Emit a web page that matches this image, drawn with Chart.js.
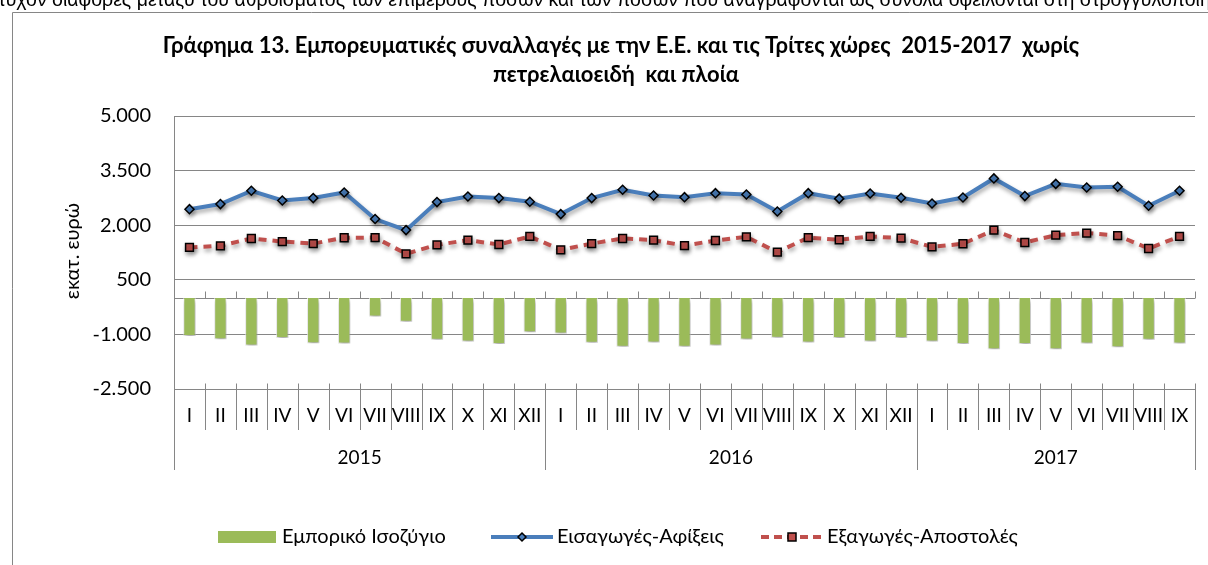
<!DOCTYPE html>
<html>
<head>
<meta charset="utf-8">
<script src="https://cdn.jsdelivr.net/npm/chart.js@4.4.1/dist/chart.umd.min.js"></script>
<style>
  html, body { margin: 0; padding: 0; background: #fff; }
  #wrap { position: relative; width: 1208px; height: 565px; overflow: hidden; }
</style>
</head>
<body>
<div id="wrap"><canvas id="chart" width="1208" height="565"></canvas></div>
<script>
// μήνες / έτη
const months = [
  "I", "II", "III", "IV", "V", "VI", "VII", "VIII", "IX", "X", "XI", "XII",
  "I", "II", "III", "IV", "V", "VI", "VII", "VIII", "IX", "X", "XI", "XII",
  "I", "II", "III", "IV", "V", "VI", "VII", "VIII", "IX",
];
const years = ["2015", "2016", "2017"];
const yearSpans = [12, 12, 9];

// Εμπορικό Ισοζύγιο (εκατ. ευρώ)
const balance = [
  -1045, -1130, -1305, -1100, -1240, -1250, -510, -655, -1150, -1195, -1265, -940,
  -975, -1230, -1340, -1220, -1340, -1305, -1140, -1095, -1220, -1100, -1195, -1100,
  -1195, -1265, -1405, -1265, -1405, -1250, -1350, -1150, -1250,
];
// Εισαγωγές-Αφίξεις
const imports = [
  2440, 2580, 2945, 2680, 2745, 2900, 2170, 1865, 2635, 2790, 2745, 2645,
  2305, 2745, 2975, 2815, 2770, 2880, 2845, 2375, 2880, 2730, 2870, 2755,
  2595, 2760, 3285, 2800, 3135, 3035, 3055, 2535, 2945,
];
// Εξαγωγές-Αποστολές
const exports = [
  1390, 1435, 1635, 1550, 1495, 1655, 1660, 1215, 1460, 1590, 1470, 1690,
  1325, 1495, 1635, 1590, 1440, 1580, 1680, 1260, 1660, 1600, 1690, 1645,
  1405, 1490, 1865, 1525, 1725, 1785, 1715, 1360, 1690,
];

const yTicks = [-2500, -1000, 500, 2000, 3500, 5000];

const titleLines = [
  "Γράφημα 13. Εμπορευματικές συναλλαγές με την Ε.Ε. και τις Τρίτες χώρες  2015-2017  χωρίς",
  "πετρελαιοειδή  και πλοία",
];
const topNote = "τυχόν διαφορές μεταξύ του αθροίσματος των επιμέρους ποσών και των ποσών που αναγράφονται ως σύνολα οφείλονται στη στρογγυλοποίηση";
const yTitle = "εκατ. ευρώ";

const GRID = "#868686";
const FONT = "Lato, 'Open Sans', sans-serif";
const GREEN = "#9BBB59";
const BLUE = "#4A7EBB";
const RED = "#C0504D";

function fmtThousands(v) {
  const s = String(Math.abs(v)).replace(/\B(?=(\d{3})+(?!\d))/g, ".");
  return v < 0 ? "-" + s : s;
}

// σκιά όπως στο Excel
const shadowPlugin = {
  id: "shadow",
  beforeDatasetDraw(chart) {
    const ctx = chart.ctx;
    ctx.save();
    ctx.shadowColor = "rgba(0,0,0,0.35)";
    ctx.shadowBlur = 4;
    ctx.shadowOffsetX = 1;
    ctx.shadowOffsetY = 3;
  },
  afterDatasetDraw(chart) {
    chart.ctx.restore();
  },
};

const decorPlugin = {
  id: "decor",
  beforeDatasetsDraw(chart) {
    const ctx = chart.ctx;
    const x = chart.scales.x;
    const y = chart.scales.y;
    const y0 = Math.round(y.getPixelForValue(0)) + 0.5;
    const step = (x.right - x.left) / months.length;
    ctx.save();
    ctx.strokeStyle = GRID;
    ctx.lineWidth = 1;
    ctx.beginPath();
    ctx.moveTo(x.left, y0);
    ctx.lineTo(x.right, y0);
    for (let i = 0; i <= months.length; i++) {
      const px = Math.round(x.left + i * step) + 0.5;
      ctx.moveTo(px, y0 - 7);
      ctx.lineTo(px, y0);
    }
    ctx.stroke();
    ctx.restore();
  },
  afterDraw(chart) {
    const ctx = chart.ctx;
    const x = chart.scales.x;
    const area = chart.chartArea;
    const step = (x.right - x.left) / months.length;
    const base = Math.round(area.bottom) + 0.5;

    ctx.save();
    // πλαίσιο
    ctx.strokeStyle = GRID;
    ctx.lineWidth = 1;
    ctx.beginPath();
    ctx.moveTo(12.5, 565);
    ctx.lineTo(12.5, 12.5);
    ctx.lineTo(1208, 12.5);
    ctx.stroke();

    // σημείωση επάνω (κομμένη)
    ctx.fillStyle = "#000";
    ctx.font = "19.5px 'Liberation Sans Narrow', 'Liberation Sans', sans-serif";
    ctx.textAlign = "left";
    ctx.textBaseline = "alphabetic";
    ctx.fillText(topNote, -2, 6);

    // τίτλος
    ctx.font = "bold 22px " + FONT;
    ctx.textAlign = "center";
    ctx.textBaseline = "middle";
    ctx.fillText(titleLines[0], 621, 46);
    ctx.fillText(titleLines[1], 616, 75);

    // τίτλος άξονα y
    ctx.save();
    ctx.translate(73, 251);
    ctx.rotate(-Math.PI / 2);
    ctx.font = "20px " + FONT;
    ctx.fillText(yTitle, 0, 0);
    ctx.restore();

    // κατηγορίες: μήνες
    ctx.strokeStyle = GRID;
    ctx.beginPath();
    let acc = 0;
    const bounds = [0];
    yearSpans.forEach((n) => { acc += n; bounds.push(acc); });
    for (let i = 0; i <= months.length; i++) {
      const px = Math.round(x.left + i * step) + 0.5;
      const isYear = bounds.includes(i);
      ctx.moveTo(px, base - 6);
      ctx.lineTo(px, isYear ? 470 : 430);
    }
    ctx.stroke();

    ctx.font = "19px " + FONT;
    ctx.fillStyle = "#000";
    months.forEach((m, i) => {
      ctx.fillText(m, x.getPixelForValue(i), 416);
    });
    years.forEach((yr, k) => {
      const a = x.left + bounds[k] * step;
      const b = x.left + bounds[k + 1] * step;
      ctx.fillText(yr, (a + b) / 2, 458);
    });

    // υπόμνημα
    const ly = 537;
    ctx.textAlign = "left";
    ctx.font = "20px " + FONT;
    ctx.fillStyle = GREEN;
    ctx.fillRect(218, ly - 6, 58, 12);
    ctx.fillStyle = "#000";
    ctx.fillText(chart.data.datasets[0].label, 282, ly);

    ctx.strokeStyle = BLUE;
    ctx.lineWidth = 4;
    ctx.beginPath();
    ctx.moveTo(491, ly);
    ctx.lineTo(553, ly);
    ctx.stroke();
    ctx.fillStyle = BLUE;
    ctx.strokeStyle = "#000";
    ctx.lineWidth = 1.5;
    ctx.beginPath();
    ctx.moveTo(522, ly - 4);
    ctx.lineTo(526, ly);
    ctx.lineTo(522, ly + 4);
    ctx.lineTo(518, ly);
    ctx.closePath();
    ctx.fill();
    ctx.stroke();
    ctx.fillStyle = "#000";
    ctx.fillText(chart.data.datasets[1].label, 557, ly);

    ctx.strokeStyle = RED;
    ctx.lineWidth = 4;
    ctx.setLineDash([8, 5]);
    ctx.beginPath();
    ctx.moveTo(761, ly);
    ctx.lineTo(823, ly);
    ctx.stroke();
    ctx.setLineDash([]);
    ctx.fillStyle = RED;
    ctx.strokeStyle = "#000";
    ctx.lineWidth = 1.5;
    ctx.fillRect(788, ly - 4, 8, 8);
    ctx.strokeRect(788, ly - 4, 8, 8);
    ctx.fillStyle = "#000";
    ctx.fillText(chart.data.datasets[2].label, 827, ly);
    ctx.restore();
  },
};

new Chart(document.getElementById("chart"), {
  type: "bar",
  data: {
    labels: months,
    datasets: [
      {
        type: "bar",
        label: "Εμπορικό Ισοζύγιο",
        data: balance,
        backgroundColor: GREEN,
        borderColor: "rgba(255,255,255,0.8)",
        borderWidth: 1,
        barPercentage: 0.4,
        categoryPercentage: 1,
        order: 3,
      },
      {
        type: "line",
        label: "Εισαγωγές-Αφίξεις",
        data: imports,
        borderColor: BLUE,
        borderWidth: 4,
        tension: 0,
        pointStyle: "rectRot",
        pointRadius: 4.5,
        pointBackgroundColor: BLUE,
        pointBorderColor: "#000",
        pointBorderWidth: 1.5,
        order: 1,
      },
      {
        type: "line",
        label: "Εξαγωγές-Αποστολές",
        data: exports,
        borderColor: RED,
        borderWidth: 4,
        borderDash: [8, 6],
        tension: 0,
        pointStyle: "rect",
        pointRadius: 5.5,
        pointBackgroundColor: RED,
        pointBorderColor: "#000",
        pointBorderWidth: 1.5,
        order: 2,
      },
    ],
  },
  options: {
    responsive: false,
    animation: false,
    devicePixelRatio: 1,
    layout: { padding: { top: 116, right: 13, left: 0, bottom: 0 } },
    plugins: {
      legend: { display: false },
      title: { display: false },
      tooltip: { enabled: false },
    },
    scales: {
      x: {
        ticks: { display: false },
        grid: { display: false },
        border: { display: false },
        afterFit: (s) => { s.height = 176; },
      },
      y: {
        min: yTicks[0],
        max: yTicks[yTicks.length - 1],
        afterBuildTicks: (s) => { s.ticks = yTicks.map((v) => ({ value: v })); },
        ticks: {
          padding: 23,
          color: "#000",
          font: { family: FONT, size: 20 },
          callback: (v) => fmtThousands(v),
        },
        grid: { color: GRID, drawTicks: false },
        border: { color: GRID },
        afterFit: (s) => { s.width = 174; },
      },
    },
  },
  plugins: [shadowPlugin, decorPlugin],
});
</script>
</body>
</html>
